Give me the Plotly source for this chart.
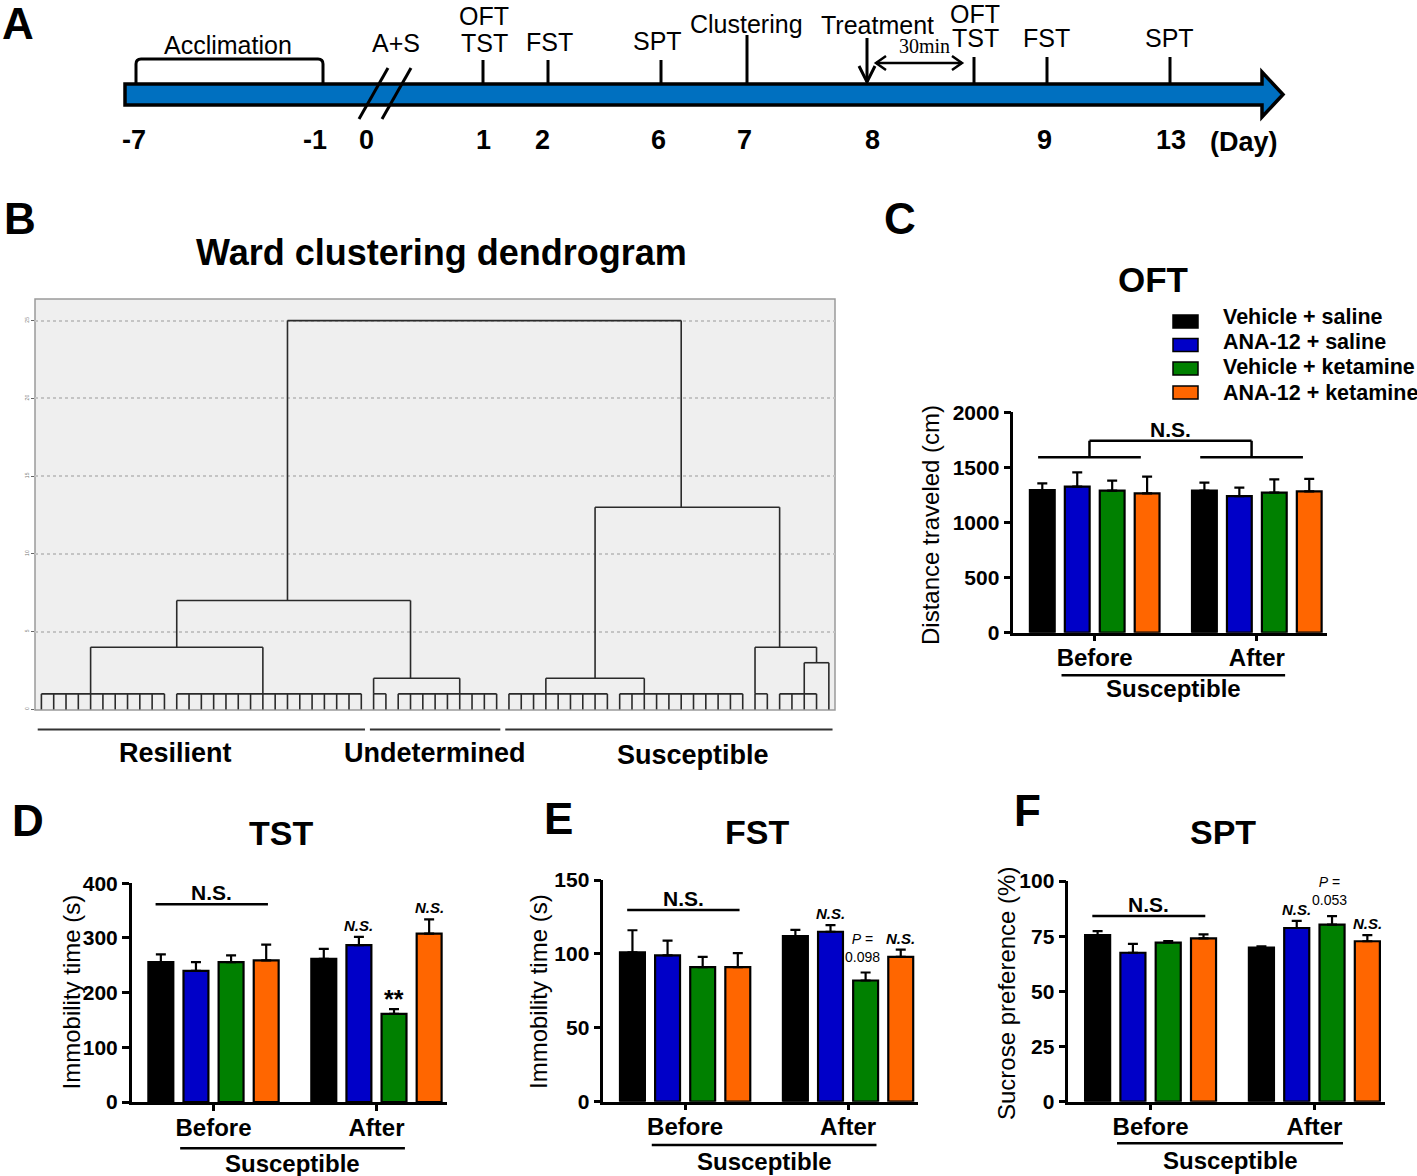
import math
import plotly.graph_objects as go

W, H = 1417, 1176
SANS = "Liberation Sans, Arial, Helvetica, sans-serif"
SERIF = "Liberation Serif, Times New Roman, serif"

# ======================= DATA =======================
SERIES = ["Vehicle + saline", "ANA-12 + saline", "Vehicle + ketamine", "ANA-12 + ketamine"]
COLORS = ["#000000", "#0000C8", "#008000", "#FF6600"]
PHASES = ["Before", "After"]

OFT_BEFORE = [1295, 1325, 1289, 1265]
OFT_BEFORE_SEM = [60, 130, 91, 151]
OFT_AFTER = [1289, 1240, 1271, 1283]
OFT_AFTER_SEM = [73, 76, 121, 112]

TST_BEFORE = [256, 240, 256, 259]
TST_BEFORE_SEM = [14, 16, 12, 29]
TST_AFTER = [262, 287, 161, 308]
TST_AFTER_SEM = [18, 15, 9, 26]

FST_BEFORE = [101, 99, 91, 91]
FST_BEFORE_SEM = [15, 10, 7, 9.5]
FST_AFTER = [112, 115, 82, 98]
FST_AFTER_SEM = [4.3, 4.5, 5.4, 4.9]

SPT_BEFORE = [75.5, 67.5, 72.1, 74.0]
SPT_BEFORE_SEM = [1.8, 4.0, 0.7, 1.8]
SPT_AFTER = [69.8, 78.7, 80.2, 72.7]
SPT_AFTER_SEM = [0.6, 3.2, 3.9, 2.8]

TST_AFTER_SIG = ["", "N.S.", "**", "N.S."]
FST_AFTER_SIG = ["", "N.S.", "P|0.098", "N.S."]
SPT_AFTER_SIG = ["", "N.S.", "P|0.053", "N.S."]

# timeline (schematic)
TIMELINE_DAYS = ["-7", "-1", "0", "1", "2", "6", "7", "8", "9", "13"]
TIMELINE_EVENTS = ["OFT", "TST", "FST", "SPT", "Clustering", "Treatment", "OFT", "TST", "FST", "SPT", "Acclimation", "A+S"]

# dendrogram (SPSS Ward, rescaled distance 0-25)
LEAF_GROUP_SIZES = [11, 16, 2, 9, 9, 11, 2, 4, 1]
LEAF_GROUP_LINK = [4, 7, 0, 5, 3, 2, 0, 2, 0]
LEAF_GROUP_HEIGHT = 1
MERGE_LEFT = ["G0", "G2", "M0", "G4", "G7", "G6", "M3", "M2"]
MERGE_RIGHT = ["G1", "G3", "M1", "G5", "G8", "M4", "M5", "M6"]
MERGE_HEIGHT = [4, 2, 7, 2, 3, 4, 13, 25]
CLUSTER_NAMES = ["Resilient", "Undetermined", "Susceptible"]
CLUSTER_LEAF_GROUPS = [[0, 1], [2, 3], [4, 5, 6, 7, 8]]
DENDRO_TICKS = [0, 5, 10, 15, 20, 25]

# ======================= HELPERS =======================
def PX(x):
    return x / W


def PY(y):
    return 1 - y / H


annotations = []
shapes = []


def text(t, x, y, size, bold=False, italic=False, xref="paper", yref="paper",
         xanchor="center", yanchor="middle", angle=0, family=SANS, yshift=0, xshift=0,
         height=None):
    if xref == "paper":
        x = PX(x)
    if yref == "paper":
        y = PY(y)
    a = dict(
        text=t, x=x, y=y, xref=xref, yref=yref, showarrow=False,
        xanchor=xanchor, yanchor=yanchor, textangle=angle, yshift=yshift, xshift=xshift,
        font=dict(family=family, size=size, color="black",
                  weight="bold" if bold else "normal",
                  style="italic" if italic else "normal"))
    if height is not None:
        a["height"] = height
        a["valign"] = "middle"
    annotations.append(a)


def line(x0, y0, x1, y1, xref="paper", yref="paper", width=2.5, color="black"):
    if xref == "paper":
        x0, x1 = PX(x0), PX(x1)
    if yref == "paper":
        y0, y1 = PY(y0), PY(y1)
    shapes.append(dict(type="line", x0=x0, y0=y0, x1=x1, y1=y1, xref=xref, yref=yref,
                       line=dict(color=color, width=width)))


def path(p, width=3):
    shapes.append(dict(type="path", xref="x", yref="y", path=p,
                       fillcolor="rgba(0,0,0,0)", line=dict(color="black", width=width)))


fig = go.Figure()
layout_axes = {}

# ======================= PANEL A: timeline =======================
layout_axes["xaxis"] = dict(domain=[0, 1], range=[0, W], visible=False, fixedrange=True)
layout_axes["yaxis"] = dict(domain=[PY(170), 1], range=[170, 0], visible=False, fixedrange=True)

DAY_POS = [134, 315, 366, 483, 542, 658, 744, 872, 1044, 1171]
EVT_POS = [484, 484, 549, 657, 746, 877, 975, 975, 1046, 1169, 228, 396]
EVT_Y = [16, 43, 42, 41, 24, 25, 14, 38, 38, 38, 45, 43]
EVT_H = [22, None, None, None, None, 22, 22, None, None, None, None, None]
TICK_POS = [483, 548, 661, 747, 974, 1047, 1170]
TICK_TOP = [60, 60, 60, 35, 57, 57, 57]

shapes.append(dict(type="path", xref="x", yref="y",
                   path="M125,84 L1262,84 L1262,72 L1283,94.5 L1262,117 L1262,105 L125,105 Z",
                   fillcolor="rgb(0,112,192)", line=dict(color="black", width=3.5)))
tx, ty = [], []
for p, t in zip(TICK_POS, TICK_TOP):
    tx += [p, p, None]
    ty += [t, 84, None]
fig.add_trace(go.Scatter(x=tx, y=ty, mode="lines", line=dict(color="black", width=3),
                         xaxis="x", yaxis="y", showlegend=False, hoverinfo="skip"))
for d, p in zip(TIMELINE_DAYS, DAY_POS):
    text(d, p, 140, 27, bold=True, xref="x", yref="y")
text("(Day)", 1244, 142, 27, bold=True, xref="x", yref="y")
for e, p, y, hh in zip(TIMELINE_EVENTS, EVT_POS, EVT_Y, EVT_H):
    text(e, p, y, 25, xref="x", yref="y", height=hh)
text("30min", 924, 45, 20, xref="x", yref="y", family=SERIF, height=15)
path("M136,83 L136,64 Q136,59 141,59 L318,59 Q323,59 323,64 L323,83")
line(359, 119, 388, 68, xref="x", yref="y", width=3)
line(382, 119, 411, 68, xref="x", yref="y", width=3)
line(867, 38, 867, 82, xref="x", yref="y", width=3)
path("M859,66 L867,82 L875,66")
line(876, 63, 962, 63, xref="x", yref="y", width=2.5)
path("M886,56 L876,63 L886,70", 2.5)
path("M952,56 L962,63 L952,70", 2.5)

text("A", 18, 23, 44, bold=True, height=36)

# ======================= PANEL B: dendrogram =======================
seg_x, seg_y = [], []


def seg(x0, y0, x1, y1):
    seg_x.extend([x0, x1, None])
    seg_y.extend([y0, y1, None])


nodes = {}
group_leaves = []
start = 0
for gi, (n, link) in enumerate(zip(LEAF_GROUP_SIZES, LEAF_GROUP_LINK)):
    leaves = list(range(start, start + n))
    group_leaves.append(leaves)
    if n > 1:
        for lf in leaves:
            seg(lf, 0, lf, LEAF_GROUP_HEIGHT)
        seg(leaves[0], LEAF_GROUP_HEIGHT, leaves[-1], LEAF_GROUP_HEIGHT)
        nodes[f"G{gi}"] = (start + link, LEAF_GROUP_HEIGHT)
    else:
        nodes[f"G{gi}"] = (start, 0)
    start += n
n_leaves = start
for k, (a, b, h) in enumerate(zip(MERGE_LEFT, MERGE_RIGHT, MERGE_HEIGHT)):
    xa, ha = nodes[a]
    xb, hb = nodes[b]
    seg(xa, ha, xa, h)
    seg(xb, hb, xb, h)
    seg(xa, h, xb, h)
    nodes[f"M{k}"] = (math.floor((xa + xb) / 2), h)

fig.add_trace(go.Scatter(x=seg_x, y=seg_y, mode="lines", line=dict(color="#2a2a2a", width=1.6),
                         xaxis="x2", yaxis="y2", showlegend=False, hoverinfo="skip"))

DB = (35, 299, 835, 710)  # px box
layout_axes["xaxis2"] = dict(domain=[PX(DB[0]), PX(DB[2])], range=[-0.52, n_leaves - 0.5],
                             showgrid=False, zeroline=False, showticklabels=False, ticks="",
                             fixedrange=True, anchor="y2")
layout_axes["yaxis2"] = dict(domain=[PY(DB[3]), PY(DB[1])], range=[-0.04, 26.39],
                             tickvals=DENDRO_TICKS, showgrid=True, gridcolor="#c4c4c4",
                             griddash="dot", gridwidth=1.5, zeroline=False,
                             ticks="outside", ticklen=3, tickcolor="#666", tickwidth=1,
                             tickfont=dict(size=5, color="#777", family=SANS), tickangle=-90,
                             fixedrange=True, anchor="x2")
shapes.append(dict(type="rect", xref="x2 domain", yref="y2 domain", x0=0, x1=1, y0=0, y1=1,
                   fillcolor="#efefef", line=dict(color="#9a9a9a", width=1.5), layer="below"))

LABEL_PX = [(175.5, 753), (435, 753), (693, 755)]
for name, grps, (lx, ly) in zip(CLUSTER_NAMES, CLUSTER_LEAF_GROUPS, LABEL_PX):
    first = group_leaves[grps[0]][0]
    last = group_leaves[grps[-1]][-1]
    shapes.append(dict(type="line", xref="x2", yref="paper", x0=first - 0.3, x1=last + 0.3,
                       y0=PY(729.5), y1=PY(729.5), line=dict(color="#333", width=2)))
    text(name, lx, ly, 27, bold=True)

text("Ward clustering dendrogram", 441, 252, 36, bold=True)
text("B", 20, 218, 44, bold=True)

# ======================= BAR PANELS =======================
GAP = 4.64
XR = [-0.83, GAP + 3.5]
BAR_W = 0.71


def bar_panel(idx, box, ymax, dtick, before, bsem, after, asem):
    xa, ya = f"x{idx}", f"y{idx}"
    for s in range(4):
        fig.add_trace(go.Bar(
            x=[g * GAP + s for g in range(2)], y=[before[s], after[s]], width=BAR_W,
            marker=dict(color=COLORS[s], line=dict(color="black", width=2.2)),
            error_y=dict(type="data", symmetric=False, array=[bsem[s], asem[s]],
                         arrayminus=[0, 0], color="black", thickness=2.2, width=5),
            name=SERIES[s], xaxis=xa, yaxis=ya, showlegend=False, hoverinfo="skip"))
    x0, y0, x1, y1 = box
    layout_axes[f"xaxis{idx}"] = dict(
        domain=[PX(x0), PX(x1)], range=XR, tickvals=[1.5, GAP + 1.5], ticktext=PHASES,
        ticks="outside", ticklen=6, tickwidth=2.5, tickcolor="black", ticklabelstandoff=-4,
        tickfont=dict(family=SANS, size=24, color="black", weight="bold"),
        showline=True, linewidth=2.5, linecolor="black", showgrid=False, zeroline=False,
        anchor=ya, fixedrange=True)
    layout_axes[f"yaxis{idx}"] = dict(
        domain=[PY(y1), PY(y0)], range=[0, ymax], dtick=dtick, tick0=0,
        ticks="outside", ticklen=7, tickwidth=2.5, tickcolor="black",
        tickfont=dict(family=SANS, size=21, color="black", weight="bold"),
        showline=True, linewidth=2.5, linecolor="black", showgrid=False, zeroline=False,
        anchor=xa, fixedrange=True)


def susceptible(idx, bottom_px, line_off, text_off, x_a=0.55, x_b=6.95):
    shapes.append(dict(type="line", xref=f"x{idx}", yref="paper", x0=x_a, x1=x_b,
                       y0=PY(bottom_px + line_off), y1=PY(bottom_px + line_off),
                       line=dict(color="black", width=2.5)))
    annotations.append(dict(text="Susceptible", x=(x_a + x_b) / 2, y=PY(bottom_px + text_off),
                            xref=f"x{idx}", yref="paper", showarrow=False,
                            xanchor="center", yanchor="middle",
                            font=dict(family=SANS, size=24, color="black", weight="bold")))


def sig_labels(idx, after, asem, labels):
    for s, lab in enumerate(labels):
        if not lab:
            continue
        x = GAP + s
        ytop = after[s] + asem[s]
        if lab == "**":
            text("**", x, ytop, 25, bold=True, xref=f"x{idx}", yref=f"y{idx}",
                 yanchor="bottom", yshift=-6)
        elif lab.startswith("P|"):
            text("<i>P</i> =<br>" + lab[2:], x, ytop, 14, xref=f"x{idx}", yref=f"y{idx}",
                 yanchor="bottom", yshift=6, xshift=-3)
        else:
            text(lab, x, ytop, 15, bold=True, italic=True, xref=f"x{idx}", yref=f"y{idx}",
                 yanchor="bottom", yshift=1)


def ns_line(idx, yv, x_a=-0.15, x_b=3.05):
    line(x_a, yv, x_b, yv, xref=f"x{idx}", yref=f"y{idx}", width=2.5)
    text("N.S.", (x_a + x_b) / 2, yv, 21, bold=True, xref=f"x{idx}", yref=f"y{idx}", yshift=12)


# ---- C: OFT
bar_panel(3, (1013.3, 412.3, 1326.7, 632.7), 2000, 500, OFT_BEFORE, OFT_BEFORE_SEM, OFT_AFTER, OFT_AFTER_SEM)
susceptible(3, 632.7, 42.5, 55.5)
for g in range(2):
    a, b = g * GAP - 0.12, g * GAP + 2.82
    line(a, 1592, b, 1592, xref="x3", yref="y3", width=2.5)
    c = (a + b) / 2
    line(c, 1592, c, 1742, xref="x3", yref="y3", width=2.5)
line(1.35, 1742, GAP + 1.35, 1742, xref="x3", yref="y3", width=2.5)
text("N.S.", (1.35 + GAP + 1.35) / 2, 1742, 21, bold=True, xref="x3", yref="y3", yshift=11)
text("Distance traveled (cm)", 930, 525, 24, angle=-90)
text("OFT", 1153, 279, 35, bold=True)
text("C", 900, 218, 44, bold=True)
LEG_Y = [321.5, 345, 368.5, 392.5]
LEG_TY = [317, 342.5, 367, 393]
for s in range(4):
    shapes.append(dict(type="rect", xref="paper", yref="paper", x0=PX(1173), x1=PX(1198),
                       y0=PY(LEG_Y[s] + 6.5), y1=PY(LEG_Y[s] - 6.5),
                       fillcolor=COLORS[s], line=dict(color="black", width=1.5)))
    text(SERIES[s], 1221, LEG_TY[s], 21.5, bold=True, xanchor="left")

# ---- D: TST
bar_panel(4, (131.7, 883.3, 446.7, 1102), 400, 100, TST_BEFORE, TST_BEFORE_SEM, TST_AFTER, TST_AFTER_SEM)
susceptible(4, 1102, 46.3, 61)
ns_line(4, 361.6)
sig_labels(4, TST_AFTER, TST_AFTER_SEM, TST_AFTER_SIG)
text("Immobility time (s)", 71.7, 991.7, 24, angle=-90)
text("TST", 280.7, 833, 34, bold=True)
text("D", 28, 820, 44, bold=True)

# ---- E: FST
bar_panel(5, (603.3, 880, 918.3, 1101.7), 150, 50, FST_BEFORE, FST_BEFORE_SEM, FST_AFTER, FST_AFTER_SEM)
susceptible(5, 1101.7, 43.3, 60)
ns_line(5, 129.7)
sig_labels(5, FST_AFTER, FST_AFTER_SEM, FST_AFTER_SIG)
text("Immobility time (s)", 538.3, 991.7, 24, angle=-90)
text("FST", 756.7, 832, 34, bold=True)
text("E", 558, 818, 44, bold=True)

# ---- F: SPT
bar_panel(6, (1068.3, 881, 1385, 1101.7), 100, 25, SPT_BEFORE, SPT_BEFORE_SEM, SPT_AFTER, SPT_AFTER_SEM)
susceptible(6, 1101.7, 41.6, 59)
ns_line(6, 84.1)
sig_labels(6, SPT_AFTER, SPT_AFTER_SEM, SPT_AFTER_SIG)
text("Sucrose preference (%)", 1006.7, 993.3, 24, angle=-90)
text("SPT", 1223.3, 832, 34, bold=True)
text("F", 1027, 810, 44, bold=True)

fig.update_layout(
    width=W, height=H, autosize=False,
    margin=dict(l=0, r=0, t=0, b=0, pad=0, autoexpand=False),
    paper_bgcolor="white", plot_bgcolor="rgba(0,0,0,0)",
    barmode="overlay", showlegend=False,
    font=dict(family=SANS, color="black"),
    annotations=annotations, shapes=shapes,
    **layout_axes,
)

fig.write_html("out.html", config={"displayModeBar": False},
               post_script="document.body.style.margin='0px';document.body.style.overflow='hidden';")
